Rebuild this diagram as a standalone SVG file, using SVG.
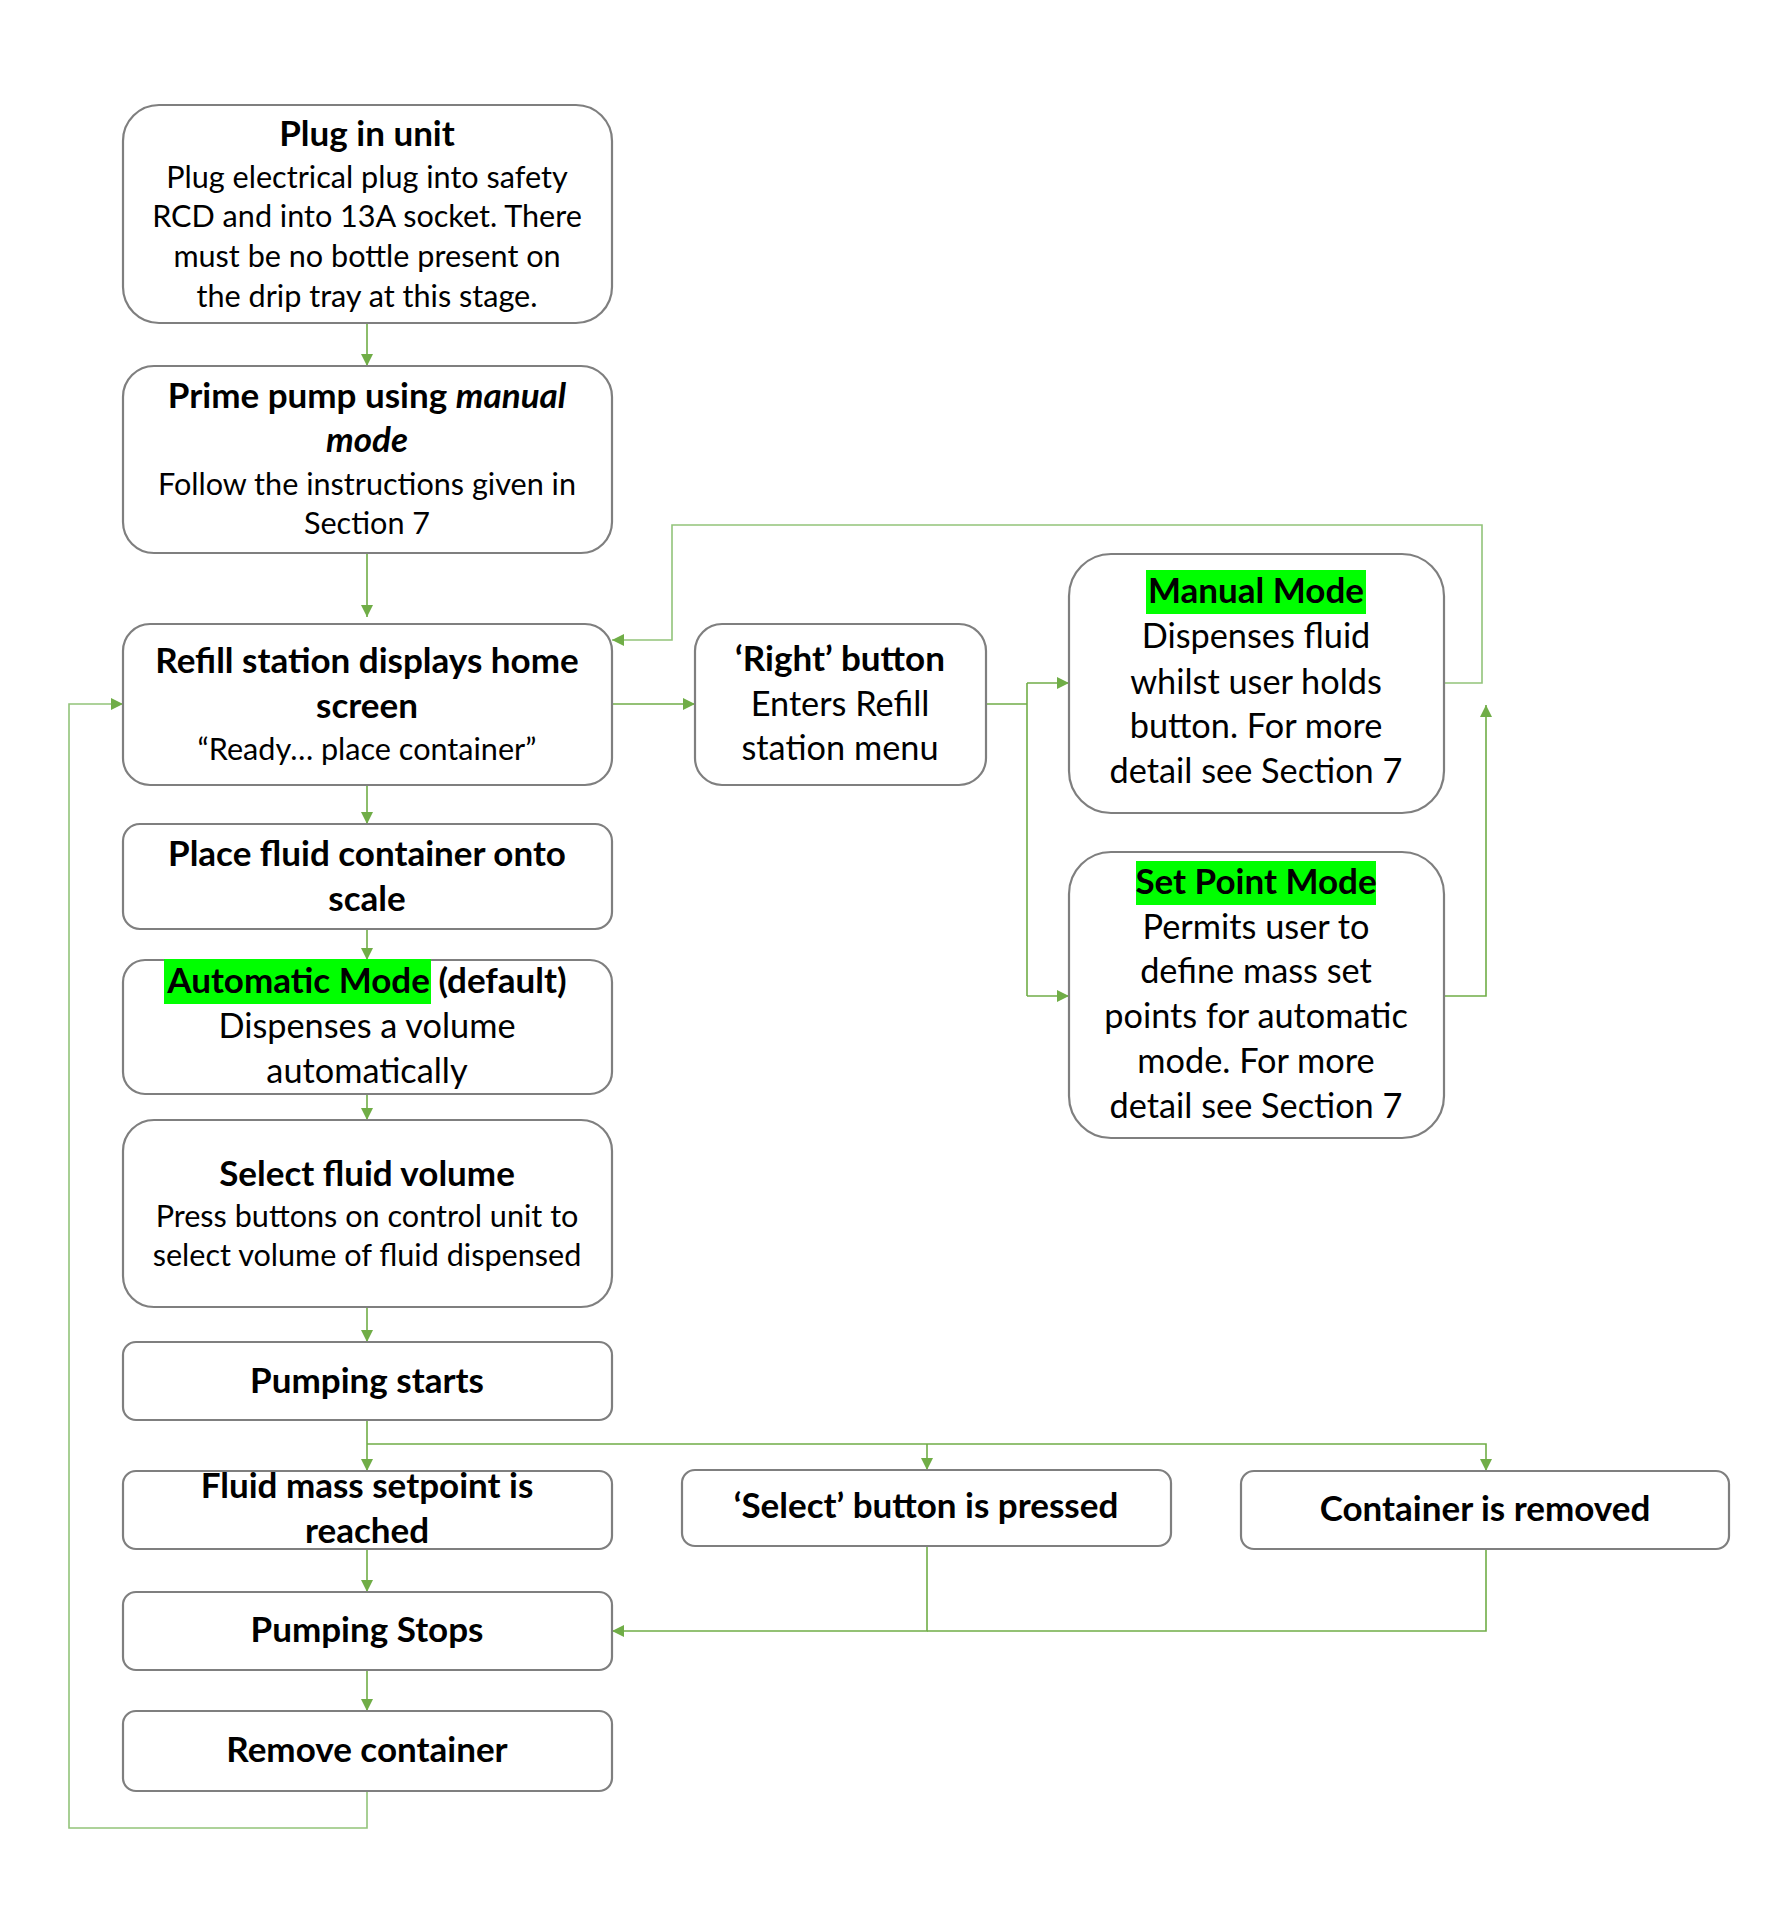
<svg xmlns="http://www.w3.org/2000/svg" width="1780" height="1922" viewBox="0 0 1780 1922">
  <style>
    .box { fill: #ffffff; stroke: #7f7f7f; stroke-width: 2.2; }
    .t { font-family: Lato, "Open Sans", "Liberation Sans", sans-serif; text-anchor: middle; fill: #000000; }
    .h { font-weight: bold; font-size: 35px; }
    .s { font-size: 30.6px; }
    .m { font-size: 34.3px; }
    .hl { fill: #00ff00; }
    .c { fill: none; stroke: #70ad47; stroke-width: 1.6; }
    .cl { fill: none; stroke: #92c47a; stroke-width: 1.6; }
  </style>
  <defs>
    <marker id="ah" viewBox="0 0 10 10" refX="10" refY="5" markerWidth="12" markerHeight="12" markerUnits="userSpaceOnUse" orient="auto">
      <path d="M0,0 L10,5 L0,10 z" fill="#70ad47"/>
    </marker>
  </defs>
  <rect width="1780" height="1922" fill="#ffffff"/>

  <!-- connectors -->
  <g id="connectors">
    <path class="c" d="M367,324 V366" marker-end="url(#ah)"/>
    <path class="c" d="M367,553 V617" marker-end="url(#ah)"/>
    <path class="c" d="M612,704 H695" marker-end="url(#ah)"/>
    <path class="c" d="M986,704 H1027"/>
    <path class="c" d="M1027,683 V996"/>
    <path class="c" d="M1027,683 H1069" marker-end="url(#ah)"/>
    <path class="c" d="M1027,996 H1069" marker-end="url(#ah)"/>
    <path class="cl" d="M1444,683 H1482 V525 H672 V640 H612" marker-end="url(#ah)"/>
    <path class="c" d="M1444,996 H1486 V705" marker-end="url(#ah)"/>
    <path class="c" d="M367,785 V824" marker-end="url(#ah)"/>
    <path class="c" d="M367,929 V960" marker-end="url(#ah)"/>
    <path class="c" d="M367,1094 V1120" marker-end="url(#ah)"/>
    <path class="c" d="M367,1307 V1342" marker-end="url(#ah)"/>
    <path class="c" d="M367,1420 V1471" marker-end="url(#ah)"/>
    <path class="c" d="M367,1444 H1486 V1471" marker-end="url(#ah)"/>
    <path class="c" d="M927,1444 V1470" marker-end="url(#ah)"/>
    <path class="c" d="M367,1549 V1592" marker-end="url(#ah)"/>
    <path class="c" d="M927,1546 V1631 H612" marker-end="url(#ah)"/>
    <path class="c" d="M1486,1549 V1631 H927"/>
    <path class="c" d="M367,1670 V1711" marker-end="url(#ah)"/>
    <path class="cl" d="M367,1791 V1828 H69 V704 H123" marker-end="url(#ah)"/>
  </g>

  <g id="plug-in-unit">
    <rect class="box" x="123" y="105" width="489" height="218" rx="36"/>
    <text class="t h" x="367" y="146">Plug in unit</text>
    <text class="t s" x="367" y="188">Plug electrical plug into safety</text>
    <text class="t s" x="367" y="227">RCD and into 13A socket. There</text>
    <text class="t s" x="367" y="267">must be no bottle present on</text>
    <text class="t s" x="367" y="307">the drip tray at this stage.</text>
  </g>

  <g id="prime-pump">
    <rect class="box" x="123" y="366" width="489" height="187" rx="31"/>
    <text class="t h" x="367" y="408">Prime pump using <tspan font-style="italic">manual</tspan></text>
    <text class="t h" x="367" y="452" font-style="italic">mode</text>
    <text class="t s" x="367" y="495">Follow the instructions given in</text>
    <text class="t s" x="367" y="534">Section 7</text>
  </g>

  <g id="home-screen">
    <rect class="box" x="123" y="624" width="489" height="161" rx="27"/>
    <text class="t h" x="367" y="673">Refill station displays home</text>
    <text class="t h" x="367" y="718">screen</text>
    <text class="t s" x="367" y="760">“Ready… place container”</text>
  </g>

  <g id="right-button">
    <rect class="box" x="695" y="624" width="291" height="161" rx="27"/>
    <text class="t h" x="840" y="671">‘Right’ button</text>
    <text class="t m" x="840" y="716">Enters Refill</text>
    <text class="t m" x="840" y="760">station menu</text>
  </g>

  <g id="manual-mode">
    <rect class="box" x="1069" y="554" width="375" height="259" rx="42"/>
    <rect class="hl" x="1146" y="570" width="220" height="44"/>
    <text class="t h" x="1256" y="603">Manual Mode</text>
    <text class="t m" x="1256" y="648">Dispenses fluid</text>
    <text class="t m" x="1256" y="694">whilst user holds</text>
    <text class="t m" x="1256" y="738">button. For more</text>
    <text class="t m" x="1256" y="783">detail see Section 7</text>
  </g>

  <g id="set-point-mode">
    <rect class="box" x="1069" y="852" width="375" height="286" rx="42"/>
    <rect class="hl" x="1136" y="861" width="240" height="44"/>
    <text class="t h" x="1256" y="894">Set Point Mode</text>
    <text class="t m" x="1256" y="939">Permits user to</text>
    <text class="t m" x="1256" y="983">define mass set</text>
    <text class="t m" x="1256" y="1028">points for automatic</text>
    <text class="t m" x="1256" y="1073">mode. For more</text>
    <text class="t m" x="1256" y="1118">detail see Section 7</text>
  </g>

  <g id="place-container">
    <rect class="box" x="123" y="824" width="489" height="105" rx="17"/>
    <text class="t h" x="367" y="866">Place fluid container onto</text>
    <text class="t h" x="367" y="911">scale</text>
  </g>

  <g id="automatic-mode">
    <rect class="box" x="123" y="960" width="489" height="134" rx="22"/>
    <rect class="hl" x="164" y="959" width="267" height="45"/>
    <text class="t h" x="367" y="993">Automatic Mode (default)</text>
    <text class="t m" x="367" y="1038">Dispenses a volume</text>
    <text class="t m" x="367" y="1083">automatically</text>
  </g>

  <g id="select-volume">
    <rect class="box" x="123" y="1120" width="489" height="187" rx="31"/>
    <text class="t h" x="367" y="1186">Select fluid volume</text>
    <text class="t s" x="367" y="1227">Press buttons on control unit to</text>
    <text class="t s" x="367" y="1266">select volume of fluid dispensed</text>
  </g>

  <g id="pumping-starts">
    <rect class="box" x="123" y="1342" width="489" height="78" rx="13"/>
    <text class="t h" x="367" y="1393">Pumping starts</text>
  </g>

  <g id="setpoint-reached">
    <rect class="box" x="123" y="1471" width="489" height="78" rx="13"/>
    <text class="t h" x="367" y="1498">Fluid mass setpoint is</text>
    <text class="t h" x="367" y="1543">reached</text>
  </g>

  <g id="select-pressed">
    <rect class="box" x="682" y="1470" width="489" height="76" rx="13"/>
    <text class="t h" x="926" y="1518">‘Select’ button is pressed</text>
  </g>

  <g id="container-removed">
    <rect class="box" x="1241" y="1471" width="488" height="78" rx="13"/>
    <text class="t h" x="1485" y="1521">Container is removed</text>
  </g>

  <g id="pumping-stops">
    <rect class="box" x="123" y="1592" width="489" height="78" rx="13"/>
    <text class="t h" x="367" y="1642">Pumping Stops</text>
  </g>

  <g id="remove-container">
    <rect class="box" x="123" y="1711" width="489" height="80" rx="13"/>
    <text class="t h" x="367" y="1762">Remove container</text>
  </g>
</svg>
